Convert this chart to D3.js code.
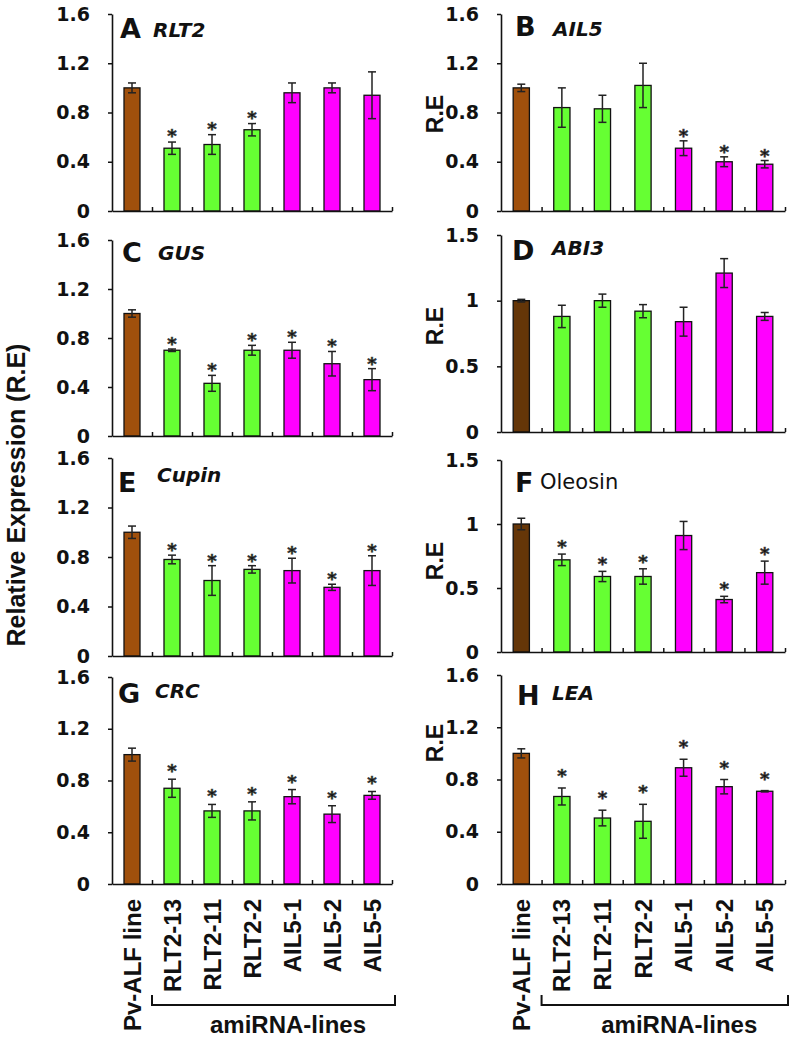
<!DOCTYPE html>
<html>
<head>
<meta charset="utf-8">
<script src="https://cdn.jsdelivr.net/npm/d3@7"></script>
<style>
  html, body { margin: 0; padding: 0; background: #fff; }
  svg { display: block; }
</style>
</head>
<body>
<svg id="chart" width="797" height="1039"></svg>
<script>
// ---------------- DATA ----------------
const categories = ["Pv-ALF line", "RLT2-13", "RLT2-11", "RLT2-2", "AIL5-1", "AIL5-2", "AIL5-5"];
const categoryGroups = ["control", "RLT2", "RLT2", "RLT2", "AIL5", "AIL5", "AIL5"];
const panelLetters = ["A", "B", "C", "D", "E", "F", "G", "H"];
const geneNames = ["RLT2", "AIL5", "GUS", "ABI3", "Cupin", "Oleosin", "CRC", "LEA"];
const groupLabel = "amiRNA-lines";
const yAxisTitle = "Relative Expression  (R.E)";
const rightAxisTitle = "R.E";

const ticks16 = [0, 0.4, 0.8, 1.2, 1.6];
const tickLabels16 = ["0", "0.4", "0.8", "1.2", "1.6"];
const ticks15 = [0, 0.5, 1, 1.5];
const tickLabels15 = ["0", "0.5", "1", "1.5"];

const valuesA = [1.00, 0.51, 0.54, 0.66, 0.96, 1.00, 0.94];
const errorsA = [0.04, 0.05, 0.08, 0.05, 0.08, 0.04, 0.19];
const starsA  = [0, 1, 1, 1, 0, 0, 0];

const valuesB = [1.00, 0.84, 0.83, 1.02, 0.51, 0.40, 0.38];
const errorsB = [0.03, 0.16, 0.11, 0.18, 0.06, 0.04, 0.03];
const starsB  = [0, 0, 0, 0, 1, 1, 1];

const valuesC = [1.00, 0.70, 0.43, 0.70, 0.70, 0.59, 0.46];
const errorsC = [0.03, 0.01, 0.065, 0.04, 0.065, 0.10, 0.09];
const starsC  = [0, 1, 1, 1, 1, 1, 1];

const valuesD = [1.00, 0.88, 1.00, 0.92, 0.84, 1.21, 0.88];
const errorsD = [0.01, 0.085, 0.05, 0.05, 0.11, 0.11, 0.03];
const starsD  = [0, 0, 0, 0, 0, 0, 0];

const valuesE = [1.00, 0.78, 0.61, 0.70, 0.69, 0.555, 0.69];
const errorsE = [0.05, 0.035, 0.12, 0.03, 0.10, 0.025, 0.12];
const starsE  = [0, 1, 1, 1, 1, 1, 1];

const valuesF = [1.00, 0.72, 0.59, 0.59, 0.91, 0.41, 0.62];
const errorsF = [0.045, 0.045, 0.04, 0.06, 0.11, 0.025, 0.09];
const starsF  = [0, 1, 1, 1, 0, 1, 1];

const valuesG = [1.00, 0.74, 0.565, 0.565, 0.675, 0.54, 0.685];
const errorsG = [0.05, 0.07, 0.05, 0.07, 0.055, 0.065, 0.03];
const starsG  = [0, 1, 1, 1, 1, 1, 1];

const valuesH = [1.00, 0.67, 0.505, 0.48, 0.89, 0.745, 0.71];
const errorsH = [0.035, 0.065, 0.06, 0.13, 0.065, 0.055, 0.005];
const starsH  = [0, 1, 1, 1, 1, 1, 1];

const panelValues = [valuesA, valuesB, valuesC, valuesD, valuesE, valuesF, valuesG, valuesH];
const panelErrors = [errorsA, errorsB, errorsC, errorsD, errorsE, errorsF, errorsG, errorsH];
const panelStars  = [starsA, starsB, starsC, starsD, starsE, starsF, starsG, starsH];
const panelTicks  = [ticks16, ticks16, ticks16, ticks15, ticks16, ticks15, ticks16, ticks16];
const panelTickLabels = [tickLabels16, tickLabels16, tickLabels16, tickLabels15, tickLabels16, tickLabels15, tickLabels16, tickLabels16];

// ---------------- LAYOUT / STYLE ----------------
const columns = [{x0: 112, x1: 392}, {x0: 501, x1: 785}];
const layout = [
  {col: 0, top: 14,  bottom: 211, lx: 120, ly: 38,  gx: 153, gy: 37,  gap: 10, reY: null, dark: false},
  {col: 1, top: 14,  bottom: 211, lx: 515, ly: 36,  gx: 553, gy: 36,  gap: 9,  reY: 114,  dark: false},
  {col: 0, top: 240, bottom: 436, lx: 122, ly: 262, gx: 158, gy: 260, gap: 9,  reY: null, dark: false},
  {col: 1, top: 235, bottom: 432, lx: 512, ly: 260, gx: 552, gy: 255, gap: 9,  reY: 326,  dark: true},
  {col: 0, top: 458, bottom: 656, lx: 118, ly: 492, gx: 157, gy: 482, gap: 9,  reY: null, dark: false},
  {col: 1, top: 460, bottom: 652, lx: 515, ly: 492, gx: 540, gy: 489, gap: 11, reY: 561,  dark: true},
  {col: 0, top: 677, bottom: 884, lx: 118, ly: 703, gx: 155, gy: 698, gap: 12, reY: null, dark: false},
  {col: 1, top: 675, bottom: 884, lx: 517, ly: 705, gx: 552, gy: 700, gap: 16, reY: 743,  dark: false}
];
const groupColors = {control: "#A0500C", RLT2: "#66FF33", AIL5: "#FF00FF"};
const darkControl = "#653608";
const panelFont = "'DejaVu Sans', sans-serif";
const arialFont = "'Liberation Sans', Arial, sans-serif";

const svg = d3.select("#chart");

panelLetters.forEach((letter, i) => {
  const L = layout[i];
  const col = columns[L.col];
  const ticks = panelTicks[i];
  const yMax = ticks[ticks.length - 1];
  const vals = panelValues[i], errs = panelErrors[i], stars = panelStars[i];

  const y = d3.scaleLinear().domain([0, yMax]).range([L.bottom, L.top]);
  const x = d3.scaleBand().domain(categories).range([col.x0, col.x1]).paddingInner(0.6).paddingOuter(0.3);
  const xb = d3.scaleLinear().domain([0, categories.length]).range([col.x0, col.x1]);

  const g = svg.append("g");

  // bars
  g.selectAll("rect.bar").data(categories).join("rect")
    .attr("class", "bar")
    .attr("x", c => x(c))
    .attr("width", x.bandwidth())
    .attr("y", (c, k) => y(vals[k]))
    .attr("height", (c, k) => y(0) - y(vals[k]))
    .attr("fill", (c, k) => (k === 0 && L.dark) ? darkControl : groupColors[categoryGroups[k]])
    .attr("stroke", "#111")
    .attr("stroke-width", 1.3);

  // error bars
  const eb = g.selectAll("g.err").data(categories).join("g").attr("class", "err")
    .attr("stroke", "#222").attr("stroke-width", 1.5);
  eb.append("line")
    .attr("x1", c => x(c) + x.bandwidth() / 2).attr("x2", c => x(c) + x.bandwidth() / 2)
    .attr("y1", (c, k) => y(vals[k] - errs[k])).attr("y2", (c, k) => y(vals[k] + errs[k]));
  eb.append("line")
    .attr("x1", c => x(c) + x.bandwidth() / 2 - 4).attr("x2", c => x(c) + x.bandwidth() / 2 + 4)
    .attr("y1", (c, k) => y(vals[k] + errs[k])).attr("y2", (c, k) => y(vals[k] + errs[k]));
  eb.append("line")
    .attr("x1", c => x(c) + x.bandwidth() / 2 - 4).attr("x2", c => x(c) + x.bandwidth() / 2 + 4)
    .attr("y1", (c, k) => y(vals[k] - errs[k])).attr("y2", (c, k) => y(vals[k] - errs[k]));

  // asterisks
  g.selectAll("text.star").data(categories.filter((c, k) => stars[k])).join("text")
    .attr("class", "star")
    .attr("x", c => x(c) + x.bandwidth() / 2)
    .attr("y", c => { const k = categories.indexOf(c); return y(vals[k] + errs[k]) - L.gap + 10; })
    .attr("text-anchor", "middle")
    .attr("font-family", panelFont).attr("font-weight", "bold").attr("font-size", 18)
    .attr("fill", "#111").attr("stroke", "#444").attr("stroke-width", 0.6)
    .text("*");

  // y axis
  const yAxis = d3.axisLeft(y).tickValues(ticks)
    .tickFormat((d, k) => panelTickLabels[i][k])
    .tickSizeInner(4).tickSizeOuter(0).tickPadding(18);
  const ya = g.append("g").attr("transform", `translate(${col.x0},0)`).call(yAxis);
  ya.select(".domain").attr("stroke", "#111").attr("stroke-width", 1.6);
  ya.selectAll(".tick line").attr("stroke", "#111").attr("stroke-width", 1.5);
  ya.selectAll(".tick text").attr("font-family", panelFont).attr("font-weight", "bold")
    .attr("font-size", 19).attr("fill", "#111");

  // x axis (category boundary ticks, pointing up)
  const xAxis = d3.axisBottom(xb).tickValues(d3.range(1, categories.length + 1))
    .tickSizeInner(-4).tickSizeOuter(0).tickFormat("");
  const xa = g.append("g").attr("transform", `translate(0,${L.bottom})`).call(xAxis);
  xa.select(".domain").attr("stroke", "#111").attr("stroke-width", 1.6);
  xa.selectAll(".tick line").attr("stroke", "#111").attr("stroke-width", 1.5);

  // panel letter
  g.append("text").attr("x", L.lx).attr("y", L.ly)
    .attr("font-family", panelFont).attr("font-weight", "bold").attr("font-size", 27)
    .attr("fill", "#111").text(letter);

  // gene name
  const plain = geneNames[i] === "Oleosin";
  g.append("text").attr("x", L.gx).attr("y", L.gy)
    .attr("font-family", panelFont)
    .attr("font-weight", plain ? "normal" : "bold")
    .attr("font-style", plain ? "normal" : "italic")
    .attr("font-size", plain ? 21 : 20)
    .attr("fill", "#111").text(geneNames[i]);

  // R.E title for right column
  if (L.reY !== null) {
    g.append("text").attr("transform", `translate(443,${L.reY}) rotate(-90)`)
      .attr("text-anchor", "middle")
      .attr("font-family", arialFont).attr("font-weight", "bold").attr("font-size", 23)
      .attr("fill", "#111").text(rightAxisTitle);
  }

  // bottom row: category labels and group bracket
  if (i >= 6) {
    g.selectAll("text.cat").data(categories).join("text")
      .attr("class", "cat")
      .attr("transform", c => `translate(${x(c) + x.bandwidth() / 2 + 8.5},${L.bottom + 15}) rotate(-90)`)
      .attr("text-anchor", "end")
      .attr("font-family", arialFont).attr("font-weight", "bold").attr("font-size", 24)
      .attr("fill", "#111").text(c => c);

    const by = 1005;
    const bx0 = xb(1), bx1 = xb(categories.length) + 3;
    g.append("path")
      .attr("d", `M${bx0},${by - 10}V${by}H${bx1}V${by - 10}`)
      .attr("fill", "none").attr("stroke", "#111").attr("stroke-width", 2);

    const centers = categories.slice(1).map(c => x(c) + x.bandwidth() / 2);
    g.append("text").attr("x", d3.mean(centers) + 16).attr("y", 1033)
      .attr("text-anchor", "middle")
      .attr("font-family", arialFont).attr("font-weight", "bold").attr("font-size", 24)
      .attr("fill", "#111").text(groupLabel);
  }
});

// overall y title
svg.append("text").attr("transform", "translate(25,495) rotate(-90)")
  .attr("text-anchor", "middle")
  .attr("font-family", arialFont).attr("font-weight", "bold").attr("font-size", 25)
  .attr("fill", "#111").text(yAxisTitle);
</script>
</body>
</html>
